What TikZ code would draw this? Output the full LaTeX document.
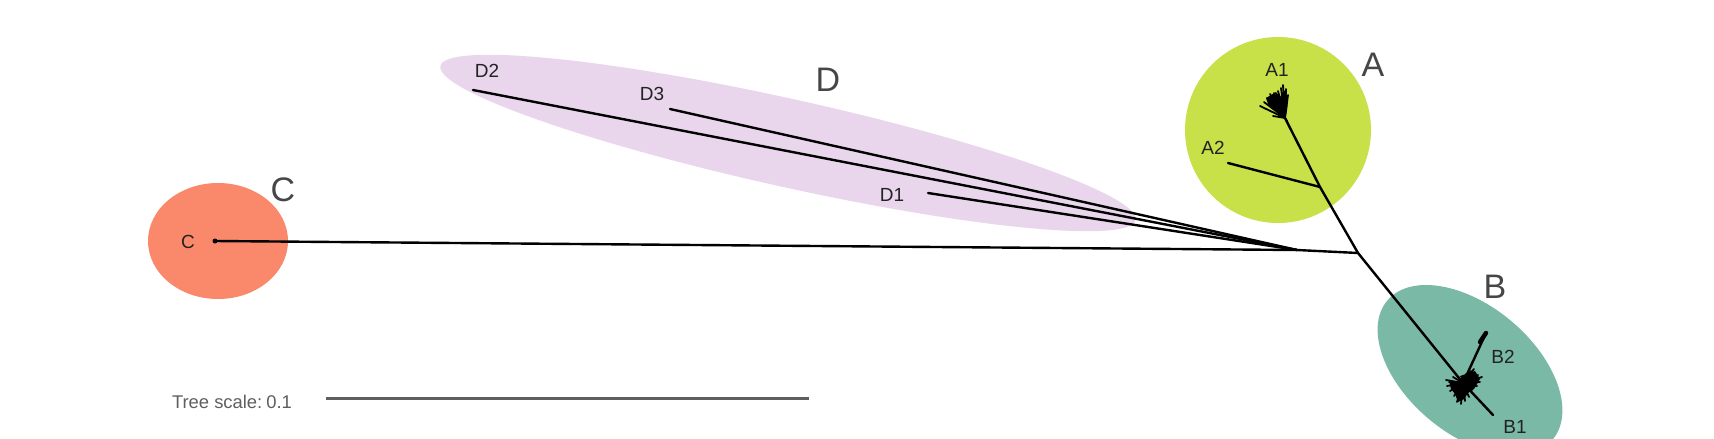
\documentclass[tikz,border=0pt]{standalone}
\usepackage{fontspec}
\setmainfont{Liberation Sans}
\definecolor{cladeA}{RGB}{200,225,72}
\definecolor{cladeB}{RGB}{122,185,165}
\definecolor{cladeC}{RGB}{250,136,106}
\definecolor{cladeD}{RGB}{234,214,236}
\definecolor{leaftext}{RGB}{34,34,34}
\definecolor{cladetext}{RGB}{70,70,70}
\definecolor{scalegray}{RGB}{95,95,95}
\begin{document}
\begin{tikzpicture}[x=0.5pt,y=-0.5pt,
  branch/.style={line width=1.2pt, black, line cap=round},
  spike/.style={line width=0.9pt, black, line cap=round},
  leaf/.style={font=\fontsize{9.5}{11}\selectfont, text=leaftext, inner sep=0pt},
  clade/.style={font=\fontsize{17}{20}\selectfont, text=cladetext, inner sep=0pt},
]
\useasboundingbox (0,0) rectangle (1714,439);
\fill[white] (0,0) rectangle (1714,439);

% clade backgrounds
\fill[cladeD, rotate around={-12.5:(788,143)}] (788,143) ellipse [x radius=356, y radius=44];
\fill[cladeA] (1278,130) circle [radius=93];
\fill[cladeC] (218,241) ellipse [x radius=70, y radius=58];
\fill[cladeB, rotate around={-40:(1470,370)}] (1470,370) ellipse [x radius=108, y radius=64];

% clade labels
\node[clade] (labA) at (1373,65) {A};
\node[clade] (labB) at (1495,287) {B};
\node[clade] (labC) at (283,190) {C};
\node[clade] (labD) at (828,80) {D};

% tree coordinates
\coordinate (R) at (1358,253);
\coordinate (DC) at (1297,250);
\coordinate (C0) at (215,241);
\coordinate (D1) at (928,193);
\coordinate (D2) at (473,90);
\coordinate (D3) at (670,109);
\coordinate (AJ) at (1320,187);
\coordinate (A2) at (1228,163);
\coordinate (A1) at (1285,118);
\coordinate (BT) at (1463,383);
\coordinate (B1) at (1493,415);
\coordinate (B2) at (1486,333);
\coordinate (B2t) at (1480,342);

% branches
\draw[branch] (C0) -- (DC) -- (R);
\draw[branch] (D1) -- (DC);
\draw[branch] (D2) -- (DC);
\draw[branch] (D3) -- (DC);
\draw[branch] (R) -- (AJ) -- (A1);
\draw[branch] (A2) -- (AJ);
\draw[branch] (R) -- (BT) -- (B1);
\draw[branch] (BT) -- (B2);
\draw[line width=2.2pt, line cap=round] (B2t) -- (B2);
\fill (C0) circle [radius=2.5];

% A1 tuft
\fill (A1) -- (1268,104) -- (1266,98) -- (1271,95) -- (1276,92) -- (1280,97) -- (1284,90) -- (1288,97) -- (1287,110) -- cycle;
\foreach \d in {(-25,-12),(-21,-16),(-18,-20),(-15,-24),(-11,-25),(-7,-27),(-4,-30),(-2,-33),(1,-29),(3,-23),(-12,-2),(2,3)}
  \draw[spike] (A1) -- ++\d;

% B tuft
\fill (BT) -- (1449,381) -- (1451,389) -- (1455,394) -- (1458,402) -- (1464,399) -- (1468,393) -- (1474,389) -- (1480,379) -- (1475,371) -- (1469,373) -- (1460,376) -- cycle;
\foreach \d in {(-17,-3),(-16,3),(-13,8),(-9,13),(-6,19),(-2,21),(2,18),(6,14),(-10,-6),(3,-9),(8,-12),(11,-14),(15,-8),(19,-6),(17,-1),(14,3),(9,7),(-7,7),(-14,-1)}
  \draw[spike] (BT) -- ++\d;

% leaf labels
\node[leaf] (tA1) at (1277,70) {A1};
\node[leaf] (tA2) at (1213,148) {A2};
\node[leaf] (tB1) at (1515,427) {B1};
\node[leaf] (tB2) at (1503,357) {B2};
\node[leaf] (tC) at (188,242) {C};
\node[leaf] (tD1) at (892,195) {D1};
\node[leaf] (tD2) at (487,71) {D2};
\node[leaf] (tD3) at (652,94) {D3};

% scale
\node[font=\fontsize{9.2}{11}\selectfont, text=scalegray, inner sep=0pt] (scaletext) at (232,402) {Tree scale:\hspace{0.22em}0.1};
\coordinate (s0) at (326,398);
\coordinate (s1) at (809,398);
\draw[line width=1.5pt, scalegray] (s0) -- (s1);
\end{tikzpicture}
\end{document}
